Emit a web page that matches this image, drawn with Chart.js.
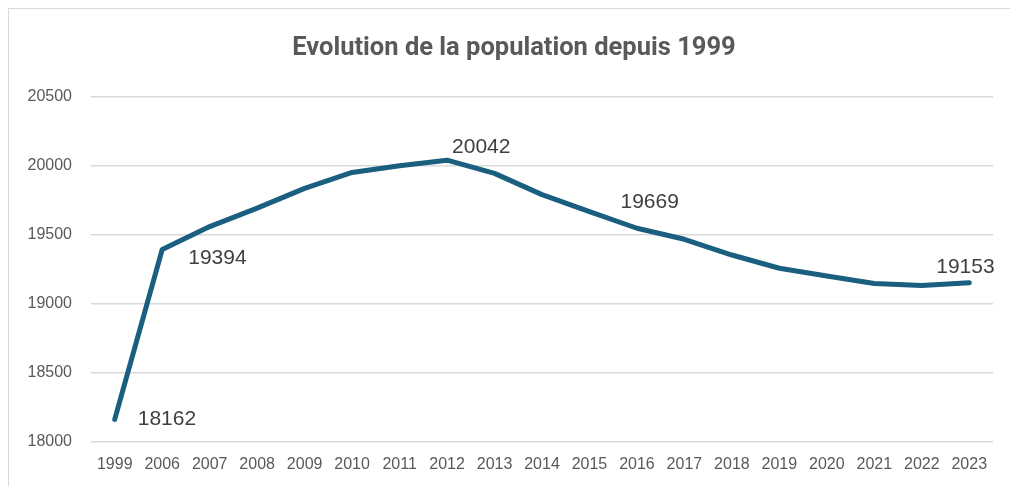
<!DOCTYPE html>
<html>
<head>
<meta charset="utf-8">
<script src="https://cdn.jsdelivr.net/npm/chart.js@4.4.1/dist/chart.umd.min.js"></script>
<style>
  html, body { margin: 0; padding: 0; background: #fff; overflow: hidden; }
  #frame { position: absolute; left: 8px; top: 8px; width: 1010px; height: 490px; border: 1.5px solid #d9d9d9; }
  #wrap { position: absolute; left: 0; top: 0; width: 1010px; height: 486px; }
</style>
</head>
<body>
<div id="frame"></div>
<div id="wrap"><canvas id="chart" width="1010" height="486"></canvas></div>
<script>
const years = ['1999', '2006', '2007', '2008', '2009', '2010', '2011', '2012', '2013', '2014',
  '2015', '2016', '2017', '2018', '2019', '2020', '2021', '2022', '2023'];
const population = [18162, 19394, 19560, 19694, 19837, 19953, 20002, 20042, 19946, 19792,
  19669, 19548, 19468, 19354, 19258, 19202, 19148, 19132, 19153];
const yTicks = [18000, 18500, 19000, 19500, 20000, 20500];
const chartTitle = 'Evolution de la population depuis 1999';

// which points get a value label, and where the text sits relative to the point
const labelSpots = [
  { i: 0, dx: 23, dy: 0 },
  { i: 1, dx: 26, dy: 9 },
  { i: 7, dx: 5, dy: -13 },
  { i: 10, dx: 31, dy: -9 },
  { i: 18, dx: -33, dy: -16 }
];

const valueLabels = {
  id: 'valueLabels',
  afterDatasetsDraw(chart) {
    const ctx = chart.ctx;
    const meta = chart.getDatasetMeta(0);
    ctx.save();
    ctx.font = '21px "Liberation Sans", Arial, sans-serif';
    ctx.fillStyle = '#404040';
    ctx.textAlign = 'left';
    ctx.textBaseline = 'middle';
    labelSpots.forEach(s => {
      const pt = meta.data[s.i];
      ctx.fillText(String(population[s.i]), pt.x + s.dx, pt.y + s.dy);
    });
    ctx.restore();
  }
};

// title sits centred on the outer frame rather than the plot
const titleText = {
  id: 'titleText',
  afterDraw(chart) {
    const ctx = chart.ctx;
    ctx.save();
    ctx.font = 'bold 25.5px "Liberation Sans Narrow", Roboto, sans-serif';
    ctx.fillStyle = '#595959';
    ctx.textAlign = 'center';
    ctx.textBaseline = 'alphabetic';
    ctx.fillText(chartTitle, 514, 55);
    ctx.restore();
  }
};

new Chart(document.getElementById('chart').getContext('2d'), {
  type: 'line',
  data: {
    labels: years,
    datasets: [{
      data: population,
      borderColor: '#1a5e80',
      borderWidth: 5,
      borderCapStyle: 'round',
      borderJoinStyle: 'round',
      pointRadius: 0,
      tension: 0,
      fill: false
    }]
  },
  options: {
    responsive: false,
    animation: false,
    layout: { padding: { left: 0, right: 17, top: 97, bottom: 0 } },
    plugins: {
      legend: { display: false },
      tooltip: { enabled: false },
      title: { display: false }
    },
    scales: {
      x: {
        offset: true,
        afterFit(scale) { scale.height = 44.3; },
        grid: { display: false, drawTicks: false, offset: true },
        border: { display: false },
        ticks: {
          color: '#595959',
          padding: 13.7,
          maxRotation: 0,
          autoSkip: false,
          font: { family: '"Liberation Sans", Arial, sans-serif', size: 16 }
        }
      },
      y: {
        min: 18000,
        max: 20500,
        afterFit(scale) { scale.width = 91; },
        afterBuildTicks(scale) { scale.ticks = yTicks.map(v => ({ value: v })); },
        grid: { color: '#d9d9d9', lineWidth: 1.5, drawTicks: false },
        border: { display: false },
        ticks: {
          color: '#595959',
          padding: 19,
          callback: v => String(v),
          font: { family: '"Liberation Sans", Arial, sans-serif', size: 16 }
        }
      }
    }
  },
  plugins: [valueLabels, titleText]
});
</script>
</body>
</html>
